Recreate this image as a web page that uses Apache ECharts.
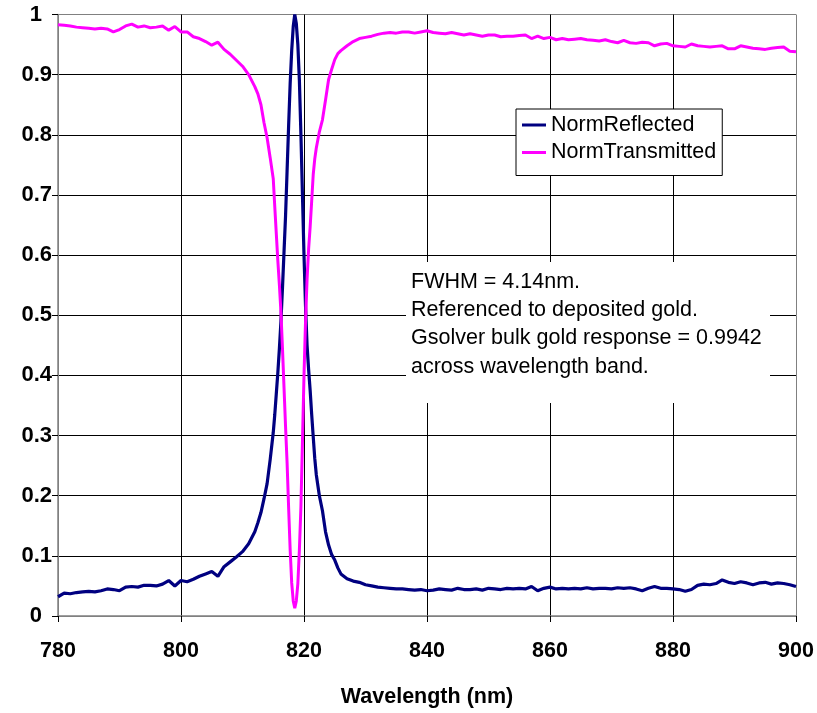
<!DOCTYPE html>
<html>
<head>
<meta charset="utf-8">
<script src="https://cdn.jsdelivr.net/npm/echarts@6/dist/echarts.min.js"></script>
<style>
html,body{margin:0;padding:0;background:#fff;}
#chart{width:817px;height:713px;}
</style>
</head>
<body>
<div id="chart"></div>
<script>
// Wavelength grid (nm)
const wavelength = [
780,781,782,783,784,785,786,787,788,789,790,791,792,793,794,795,796,797,798,799,
800,801,802,803,804,805,806,807,808,809,810,811,812,
812.5,813,813.5,814,814.5,
815,815.25,815.5,815.75,816,816.25,816.5,816.75,817,817.25,817.5,817.75,
818,818.25,818.5,818.75,819,819.25,819.5,819.75,820,820.25,820.5,820.75,
821,821.25,821.5,821.75,822,
822.5,823,823.5,824,824.5,825,825.5,
826,827,828,829,830,831,832,833,834,835,836,837,838,839,840,
841,842,843,844,845,846,847,848,849,850,
851,852,853,854,855,856,857,858,859,860,
861,862,863,864,865,866,867,868,869,870,
871,872,873,874,875,876,877,878,879,880,
881,882,883,884,885,886,887,888,889,890,
891,892,893,894,895,896,897,898,899,900
];

const normReflected = [
0.032,0.038,0.037,0.039,0.040,0.041,0.040,0.042,0.045,0.044,0.042,0.048,0.049,0.048,0.051,0.051,0.050,0.053,0.059,0.050,
0.059,0.057,0.061,0.066,0.070,0.074,0.066,0.082,0.090,0.098,0.107,0.120,0.140,
0.155,0.172,0.195,0.220,0.260,
0.305,0.335,0.370,0.405,0.445,0.490,0.545,0.605,0.665,0.740,0.815,0.885,
0.940,0.980,1.000,0.985,0.950,0.890,0.800,0.700,0.600,0.515,0.450,0.410,
0.375,0.335,0.298,0.262,0.235,
0.200,0.175,0.140,0.118,0.102,0.093,0.080,
0.070,0.062,0.058,0.056,0.052,0.050,0.048,0.047,0.046,0.045,0.045,0.044,0.043,0.044,0.042,
0.043,0.045,0.044,0.043,0.046,0.044,0.044,0.045,0.043,0.046,
0.045,0.044,0.046,0.045,0.046,0.045,0.049,0.042,0.046,0.048,
0.045,0.046,0.045,0.046,0.045,0.047,0.045,0.046,0.046,0.045,
0.047,0.046,0.047,0.045,0.042,0.046,0.049,0.046,0.046,0.045,
0.044,0.041,0.044,0.051,0.053,0.052,0.054,0.060,0.056,0.054,
0.057,0.055,0.052,0.055,0.056,0.053,0.055,0.054,0.052,0.049
];

const normTransmitted = [
0.983,0.982,0.981,0.979,0.978,0.977,0.976,0.977,0.976,0.971,0.975,0.981,0.984,0.979,0.981,0.978,0.979,0.981,0.974,0.980,
0.971,0.971,0.963,0.960,0.955,0.949,0.954,0.942,0.934,0.924,0.914,0.900,0.880,
0.868,0.850,0.820,0.795,0.762,
0.727,0.680,0.635,0.590,0.550,0.505,0.445,0.380,0.315,0.255,0.180,0.110,
0.055,0.025,0.013,0.025,0.054,0.110,0.182,0.290,0.400,0.490,0.560,0.610,
0.647,0.690,0.734,0.760,0.778,
0.805,0.825,0.858,0.892,0.909,0.925,0.935,
0.940,0.948,0.955,0.960,0.962,0.964,0.967,0.969,0.970,0.969,0.971,0.971,0.969,0.971,0.973,
0.970,0.969,0.968,0.970,0.968,0.966,0.968,0.966,0.964,0.966,
0.966,0.963,0.964,0.964,0.965,0.966,0.960,0.964,0.960,0.962,
0.958,0.960,0.958,0.959,0.960,0.958,0.957,0.956,0.958,0.955,
0.953,0.957,0.953,0.952,0.954,0.953,0.948,0.951,0.952,0.948,
0.947,0.946,0.951,0.948,0.947,0.946,0.947,0.948,0.943,0.943,
0.948,0.946,0.944,0.943,0.942,0.944,0.945,0.946,0.939,0.938
];

const seriesNames = ['NormReflected', 'NormTransmitted'];
const xAxisTitle = 'Wavelength (nm)';
const annotationLines = [
  'FWHM = 4.14nm.',
  'Referenced to deposited gold.',
  'Gsolver bulk gold response = 0.9942',
  'across wavelength band.'
];

const FONT = "'Liberation Sans', Arial, sans-serif";
const pair = (ys) => wavelength.map((x, i) => [x, ys[i]]);

const chart = echarts.init(document.getElementById('chart'), null, {renderer: 'canvas'});

const ySplitColors = ['#808080','#000','#000','#000','#000','#000','#000','#000','#000','#000','#808080'];
const xSplitColors = ['#808080','#000','#000','#000','#000','#000','#808080'];

chart.setOption({
  animation: false,
  backgroundColor: '#ffffff',
  grid: {left: 58, right: 21, top: 14.5, bottom: 91.5, show: false},
  legend: {
    orient: 'vertical',
    left: 516, top: 109,
    data: seriesNames,
    icon: 'rect',
    itemWidth: 24, itemHeight: 3,
    itemGap: 5.5,
    padding: [5, 6, 12, 6],
    backgroundColor: '#ffffff',
    borderColor: '#000000', borderWidth: 1, borderRadius: 0,
    textStyle: {fontFamily: FONT, fontSize: 21.5, color: '#000'}
  },
  xAxis: {
    type: 'value', min: 780, max: 900, interval: 20,
    name: xAxisTitle, nameLocation: 'middle', nameGap: 70,
    nameTextStyle: {fontFamily: FONT, fontSize: 21.5, fontWeight: 'bold', color: '#000'},
    axisLine: {show: true, lineStyle: {color: '#808080', width: 1.5}},
    axisTick: {show: true, inside: false, length: 6, lineStyle: {color: '#000', width: 1}},
    axisLabel: {fontFamily: FONT, fontSize: 21.5, fontWeight: 'bold', color: '#000', margin: 24},
    splitLine: {show: true, lineStyle: {color: xSplitColors, width: 1}}
  },
  yAxis: {
    type: 'value', min: 0, max: 1, interval: 0.1,
    axisLine: {show: true, lineStyle: {color: '#808080', width: 1.5}},
    axisTick: {show: true, inside: false, length: 6, lineStyle: {color: '#000', width: 1}},
    axisLabel: {
      fontFamily: FONT, fontSize: 22, fontWeight: 'bold', color: '#000', margin: 6,
      formatter: function (v) {
        const s = String(Math.round(v * 10) / 10);
        return s.indexOf('.') < 0 ? '{i|' + s + '}' : s;
      },
      rich: {i: {fontFamily: FONT, fontSize: 22, fontWeight: 'bold', color: '#000', padding: [0, 10, 0, 0]}}
    },
    splitLine: {show: true, lineStyle: {color: ySplitColors, width: 1}}
  },
  series: [
    {
      name: seriesNames[0], type: 'line', data: pair(normReflected),
      showSymbol: false, symbol: 'none',
      lineStyle: {color: '#000080', width: 3.2}, itemStyle: {color: '#000080'}, z: 3
    },
    {
      name: seriesNames[1], type: 'line', data: pair(normTransmitted),
      showSymbol: false, symbol: 'none',
      lineStyle: {color: '#ff00ff', width: 3}, itemStyle: {color: '#ff00ff'}, z: 4
    }
  ],
  graphic: [
    {
      type: 'rect', left: 406, top: 262, z: 10,
      shape: {width: 364, height: 141},
      style: {fill: '#ffffff'}
    },
    {
      type: 'text', left: 411, top: 267.5, z: 11,
      style: {
        text: annotationLines.join('\n'),
        font: "21.5px 'Liberation Sans', Arial, sans-serif",
        lineHeight: 28.4,
        fill: '#000'
      }
    }
  ]
});
</script>
</body>
</html>
